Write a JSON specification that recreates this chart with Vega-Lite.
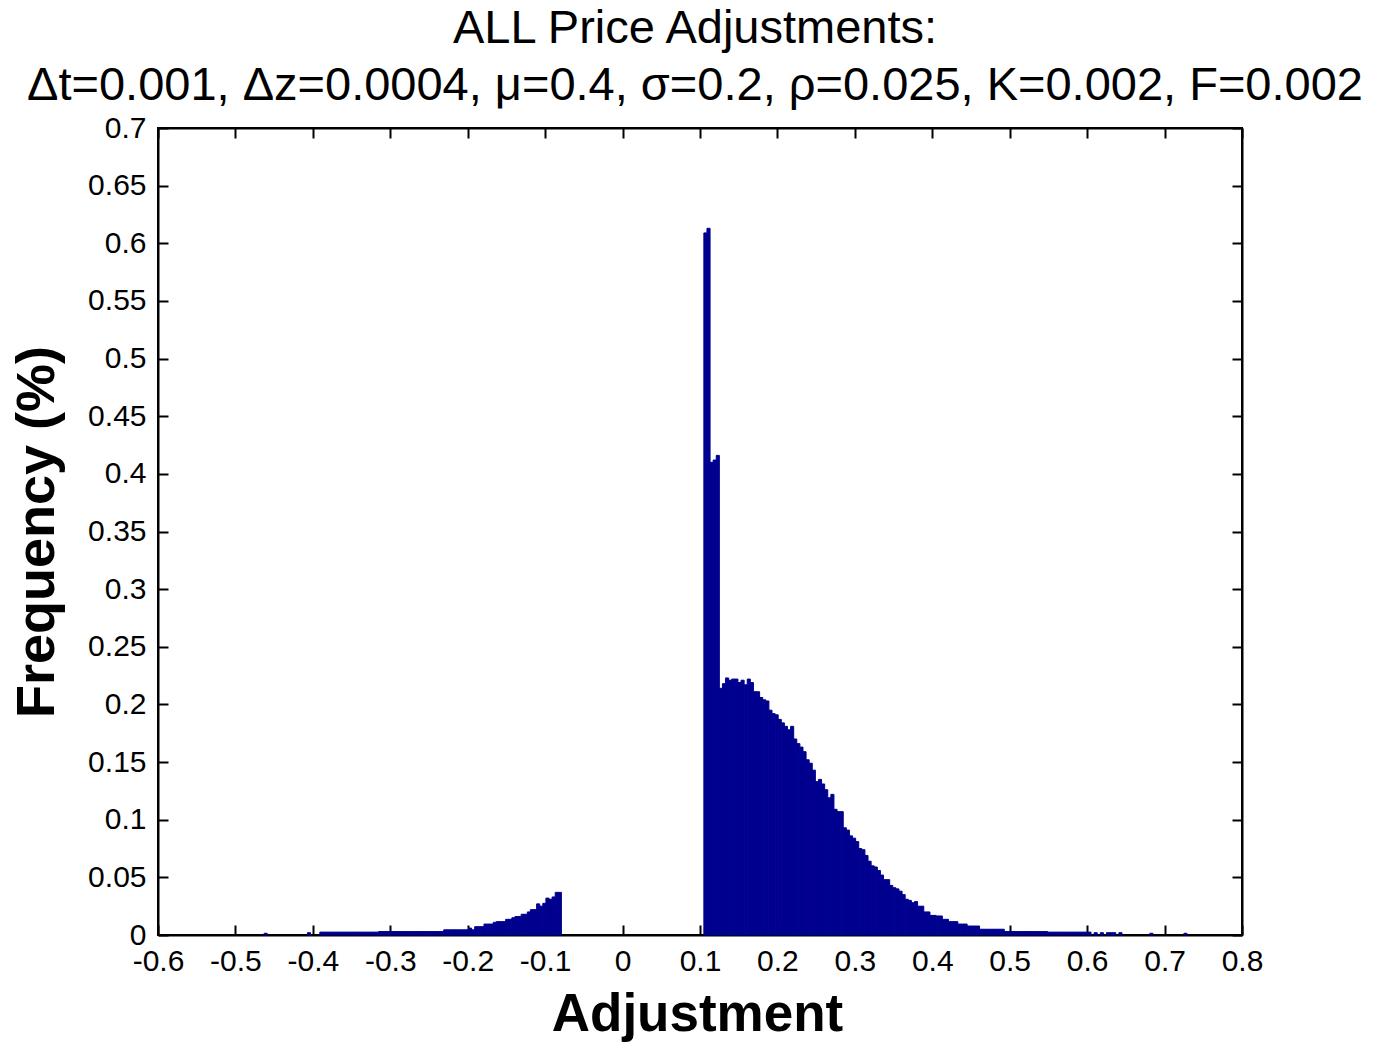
{
  "$schema": "https://vega.github.io/schema/vega-lite/v6.json",
  "width": 1084,
  "height": 807,
  "autosize": {"type": "none"},
  "padding": {"left": 158, "top": 128, "right": 137, "bottom": 108},
  "background": "white",
  "config": {"view": {"stroke": "black", "strokeWidth": 2}, "font": "Liberation Sans"},
  "title": {
    "text": ["ALL Price Adjustments:", "Δt=0.001, Δz=0.0004, μ=0.4, σ=0.2, ρ=0.025, K=0.002, F=0.002"],
    "fontSize": 47,
    "font": "Liberation Sans",
    "fontWeight": "normal",
    "color": "black",
    "lineHeight": 57,
    "anchor": "middle",
    "dx": -5,
    "offset": 3
  },
  "data": {"values": [
    {"lo": -0.463, "hi": -0.459, "f": 0.0015},
    {"lo": -0.407, "hi": -0.403, "f": 0.002},
    {"lo": -0.391, "hi": -0.387, "f": 0.0025},
    {"lo": -0.387, "hi": -0.383, "f": 0.0025},
    {"lo": -0.383, "hi": -0.379, "f": 0.0025},
    {"lo": -0.379, "hi": -0.375, "f": 0.0025},
    {"lo": -0.375, "hi": -0.371, "f": 0.0025},
    {"lo": -0.371, "hi": -0.367, "f": 0.0025},
    {"lo": -0.367, "hi": -0.363, "f": 0.0025},
    {"lo": -0.363, "hi": -0.359, "f": 0.0025},
    {"lo": -0.359, "hi": -0.355, "f": 0.0025},
    {"lo": -0.355, "hi": -0.351, "f": 0.0025},
    {"lo": -0.351, "hi": -0.347, "f": 0.0025},
    {"lo": -0.347, "hi": -0.343, "f": 0.0025},
    {"lo": -0.343, "hi": -0.339, "f": 0.0025},
    {"lo": -0.339, "hi": -0.335, "f": 0.0025},
    {"lo": -0.335, "hi": -0.331, "f": 0.0025},
    {"lo": -0.331, "hi": -0.327, "f": 0.0025},
    {"lo": -0.327, "hi": -0.323, "f": 0.0025},
    {"lo": -0.323, "hi": -0.319, "f": 0.0025},
    {"lo": -0.319, "hi": -0.315, "f": 0.0025},
    {"lo": -0.315, "hi": -0.311, "f": 0.003},
    {"lo": -0.311, "hi": -0.307, "f": 0.003},
    {"lo": -0.307, "hi": -0.303, "f": 0.003},
    {"lo": -0.303, "hi": -0.299, "f": 0.003},
    {"lo": -0.299, "hi": -0.295, "f": 0.003},
    {"lo": -0.295, "hi": -0.291, "f": 0.003},
    {"lo": -0.291, "hi": -0.287, "f": 0.003},
    {"lo": -0.287, "hi": -0.283, "f": 0.003},
    {"lo": -0.283, "hi": -0.279, "f": 0.003},
    {"lo": -0.279, "hi": -0.275, "f": 0.003},
    {"lo": -0.275, "hi": -0.271, "f": 0.003},
    {"lo": -0.271, "hi": -0.267, "f": 0.003},
    {"lo": -0.267, "hi": -0.263, "f": 0.003},
    {"lo": -0.263, "hi": -0.259, "f": 0.003},
    {"lo": -0.259, "hi": -0.255, "f": 0.003},
    {"lo": -0.255, "hi": -0.251, "f": 0.003},
    {"lo": -0.251, "hi": -0.247, "f": 0.003},
    {"lo": -0.247, "hi": -0.243, "f": 0.003},
    {"lo": -0.243, "hi": -0.239, "f": 0.003},
    {"lo": -0.239, "hi": -0.235, "f": 0.003},
    {"lo": -0.235, "hi": -0.231, "f": 0.003},
    {"lo": -0.231, "hi": -0.227, "f": 0.0045},
    {"lo": -0.227, "hi": -0.223, "f": 0.0045},
    {"lo": -0.223, "hi": -0.219, "f": 0.0045},
    {"lo": -0.219, "hi": -0.215, "f": 0.0045},
    {"lo": -0.215, "hi": -0.211, "f": 0.0045},
    {"lo": -0.211, "hi": -0.207, "f": 0.0045},
    {"lo": -0.207, "hi": -0.203, "f": 0.0045},
    {"lo": -0.203, "hi": -0.199, "f": 0.0045},
    {"lo": -0.199, "hi": -0.195, "f": 0.006},
    {"lo": -0.195, "hi": -0.191, "f": 0.0045},
    {"lo": -0.191, "hi": -0.187, "f": 0.0072},
    {"lo": -0.187, "hi": -0.183, "f": 0.0072},
    {"lo": -0.183, "hi": -0.179, "f": 0.0072},
    {"lo": -0.179, "hi": -0.175, "f": 0.0095},
    {"lo": -0.175, "hi": -0.171, "f": 0.0095},
    {"lo": -0.171, "hi": -0.167, "f": 0.0095},
    {"lo": -0.167, "hi": -0.163, "f": 0.011},
    {"lo": -0.163, "hi": -0.159, "f": 0.0116},
    {"lo": -0.159, "hi": -0.155, "f": 0.0116},
    {"lo": -0.155, "hi": -0.151, "f": 0.0116},
    {"lo": -0.151, "hi": -0.147, "f": 0.0136},
    {"lo": -0.147, "hi": -0.143, "f": 0.0136},
    {"lo": -0.143, "hi": -0.139, "f": 0.015},
    {"lo": -0.139, "hi": -0.135, "f": 0.016},
    {"lo": -0.135, "hi": -0.131, "f": 0.016},
    {"lo": -0.131, "hi": -0.127, "f": 0.018},
    {"lo": -0.127, "hi": -0.123, "f": 0.018},
    {"lo": -0.123, "hi": -0.119, "f": 0.020},
    {"lo": -0.119, "hi": -0.115, "f": 0.022},
    {"lo": -0.115, "hi": -0.111, "f": 0.022},
    {"lo": -0.111, "hi": -0.107, "f": 0.027},
    {"lo": -0.107, "hi": -0.103, "f": 0.025},
    {"lo": -0.103, "hi": -0.099, "f": 0.0275},
    {"lo": -0.099, "hi": -0.095, "f": 0.032},
    {"lo": -0.095, "hi": -0.091, "f": 0.031},
    {"lo": -0.091, "hi": -0.087, "f": 0.033},
    {"lo": -0.087, "hi": -0.083, "f": 0.037},
    {"lo": -0.083, "hi": -0.079, "f": 0.037},
    {"lo": 0.105, "hi": 0.109, "f": 0.609},
    {"lo": 0.109, "hi": 0.113, "f": 0.613},
    {"lo": 0.113, "hi": 0.117, "f": 0.410},
    {"lo": 0.117, "hi": 0.121, "f": 0.412},
    {"lo": 0.121, "hi": 0.125, "f": 0.416},
    {"lo": 0.125, "hi": 0.129, "f": 0.214},
    {"lo": 0.129, "hi": 0.133, "f": 0.218},
    {"lo": 0.133, "hi": 0.137, "f": 0.223},
    {"lo": 0.137, "hi": 0.141, "f": 0.221},
    {"lo": 0.141, "hi": 0.145, "f": 0.222},
    {"lo": 0.145, "hi": 0.149, "f": 0.222},
    {"lo": 0.149, "hi": 0.153, "f": 0.219},
    {"lo": 0.153, "hi": 0.157, "f": 0.221},
    {"lo": 0.157, "hi": 0.161, "f": 0.217},
    {"lo": 0.161, "hi": 0.165, "f": 0.222},
    {"lo": 0.165, "hi": 0.169, "f": 0.219},
    {"lo": 0.169, "hi": 0.173, "f": 0.211},
    {"lo": 0.173, "hi": 0.177, "f": 0.211},
    {"lo": 0.177, "hi": 0.181, "f": 0.206},
    {"lo": 0.181, "hi": 0.185, "f": 0.204},
    {"lo": 0.185, "hi": 0.189, "f": 0.203},
    {"lo": 0.189, "hi": 0.193, "f": 0.195},
    {"lo": 0.193, "hi": 0.197, "f": 0.192},
    {"lo": 0.197, "hi": 0.201, "f": 0.191},
    {"lo": 0.201, "hi": 0.205, "f": 0.187},
    {"lo": 0.205, "hi": 0.209, "f": 0.184},
    {"lo": 0.209, "hi": 0.213, "f": 0.181},
    {"lo": 0.213, "hi": 0.217, "f": 0.178},
    {"lo": 0.217, "hi": 0.221, "f": 0.181},
    {"lo": 0.221, "hi": 0.225, "f": 0.170},
    {"lo": 0.225, "hi": 0.229, "f": 0.166},
    {"lo": 0.229, "hi": 0.233, "f": 0.163},
    {"lo": 0.233, "hi": 0.237, "f": 0.159},
    {"lo": 0.237, "hi": 0.241, "f": 0.152},
    {"lo": 0.241, "hi": 0.245, "f": 0.149},
    {"lo": 0.245, "hi": 0.249, "f": 0.143},
    {"lo": 0.249, "hi": 0.253, "f": 0.133},
    {"lo": 0.253, "hi": 0.257, "f": 0.135},
    {"lo": 0.257, "hi": 0.261, "f": 0.131},
    {"lo": 0.261, "hi": 0.265, "f": 0.126},
    {"lo": 0.265, "hi": 0.269, "f": 0.119},
    {"lo": 0.269, "hi": 0.273, "f": 0.122},
    {"lo": 0.273, "hi": 0.277, "f": 0.109},
    {"lo": 0.277, "hi": 0.281, "f": 0.107},
    {"lo": 0.281, "hi": 0.285, "f": 0.107},
    {"lo": 0.285, "hi": 0.289, "f": 0.093},
    {"lo": 0.289, "hi": 0.293, "f": 0.091},
    {"lo": 0.293, "hi": 0.297, "f": 0.086},
    {"lo": 0.297, "hi": 0.301, "f": 0.084},
    {"lo": 0.301, "hi": 0.305, "f": 0.081},
    {"lo": 0.305, "hi": 0.309, "f": 0.075},
    {"lo": 0.309, "hi": 0.313, "f": 0.074},
    {"lo": 0.313, "hi": 0.317, "f": 0.069},
    {"lo": 0.317, "hi": 0.321, "f": 0.064},
    {"lo": 0.321, "hi": 0.325, "f": 0.060},
    {"lo": 0.325, "hi": 0.329, "f": 0.059},
    {"lo": 0.329, "hi": 0.333, "f": 0.056},
    {"lo": 0.333, "hi": 0.337, "f": 0.052},
    {"lo": 0.337, "hi": 0.341, "f": 0.048},
    {"lo": 0.341, "hi": 0.345, "f": 0.048},
    {"lo": 0.345, "hi": 0.349, "f": 0.043},
    {"lo": 0.349, "hi": 0.353, "f": 0.041},
    {"lo": 0.353, "hi": 0.357, "f": 0.040},
    {"lo": 0.357, "hi": 0.361, "f": 0.038},
    {"lo": 0.361, "hi": 0.365, "f": 0.035},
    {"lo": 0.365, "hi": 0.369, "f": 0.031},
    {"lo": 0.369, "hi": 0.373, "f": 0.030},
    {"lo": 0.373, "hi": 0.377, "f": 0.028},
    {"lo": 0.377, "hi": 0.381, "f": 0.029},
    {"lo": 0.381, "hi": 0.385, "f": 0.025},
    {"lo": 0.385, "hi": 0.389, "f": 0.025},
    {"lo": 0.389, "hi": 0.393, "f": 0.020},
    {"lo": 0.393, "hi": 0.397, "f": 0.020},
    {"lo": 0.397, "hi": 0.401, "f": 0.017},
    {"lo": 0.401, "hi": 0.405, "f": 0.017},
    {"lo": 0.405, "hi": 0.409, "f": 0.0165},
    {"lo": 0.409, "hi": 0.413, "f": 0.0165},
    {"lo": 0.413, "hi": 0.417, "f": 0.0136},
    {"lo": 0.417, "hi": 0.421, "f": 0.0136},
    {"lo": 0.421, "hi": 0.425, "f": 0.0116},
    {"lo": 0.425, "hi": 0.429, "f": 0.0116},
    {"lo": 0.429, "hi": 0.433, "f": 0.0116},
    {"lo": 0.433, "hi": 0.437, "f": 0.0095},
    {"lo": 0.437, "hi": 0.441, "f": 0.0095},
    {"lo": 0.441, "hi": 0.445, "f": 0.0095},
    {"lo": 0.445, "hi": 0.449, "f": 0.0078},
    {"lo": 0.449, "hi": 0.453, "f": 0.0078},
    {"lo": 0.453, "hi": 0.457, "f": 0.0078},
    {"lo": 0.457, "hi": 0.461, "f": 0.0078},
    {"lo": 0.461, "hi": 0.465, "f": 0.005},
    {"lo": 0.465, "hi": 0.469, "f": 0.005},
    {"lo": 0.469, "hi": 0.473, "f": 0.005},
    {"lo": 0.473, "hi": 0.477, "f": 0.005},
    {"lo": 0.477, "hi": 0.481, "f": 0.005},
    {"lo": 0.481, "hi": 0.485, "f": 0.005},
    {"lo": 0.485, "hi": 0.489, "f": 0.005},
    {"lo": 0.489, "hi": 0.493, "f": 0.005},
    {"lo": 0.493, "hi": 0.497, "f": 0.003},
    {"lo": 0.497, "hi": 0.501, "f": 0.003},
    {"lo": 0.501, "hi": 0.505, "f": 0.003},
    {"lo": 0.505, "hi": 0.509, "f": 0.003},
    {"lo": 0.509, "hi": 0.513, "f": 0.003},
    {"lo": 0.513, "hi": 0.517, "f": 0.003},
    {"lo": 0.517, "hi": 0.521, "f": 0.003},
    {"lo": 0.521, "hi": 0.525, "f": 0.003},
    {"lo": 0.525, "hi": 0.529, "f": 0.003},
    {"lo": 0.529, "hi": 0.533, "f": 0.003},
    {"lo": 0.533, "hi": 0.537, "f": 0.003},
    {"lo": 0.537, "hi": 0.541, "f": 0.003},
    {"lo": 0.541, "hi": 0.545, "f": 0.003},
    {"lo": 0.545, "hi": 0.549, "f": 0.003},
    {"lo": 0.549, "hi": 0.553, "f": 0.0025},
    {"lo": 0.553, "hi": 0.557, "f": 0.0025},
    {"lo": 0.557, "hi": 0.561, "f": 0.0025},
    {"lo": 0.561, "hi": 0.565, "f": 0.0025},
    {"lo": 0.565, "hi": 0.569, "f": 0.0025},
    {"lo": 0.569, "hi": 0.573, "f": 0.0025},
    {"lo": 0.573, "hi": 0.577, "f": 0.0025},
    {"lo": 0.577, "hi": 0.581, "f": 0.0025},
    {"lo": 0.581, "hi": 0.585, "f": 0.0025},
    {"lo": 0.585, "hi": 0.589, "f": 0.0025},
    {"lo": 0.589, "hi": 0.593, "f": 0.0025},
    {"lo": 0.593, "hi": 0.597, "f": 0.0025},
    {"lo": 0.597, "hi": 0.601, "f": 0.0025},
    {"lo": 0.601, "hi": 0.605, "f": 0.0025},
    {"lo": 0.609, "hi": 0.613, "f": 0.002},
    {"lo": 0.617, "hi": 0.621, "f": 0.002},
    {"lo": 0.625, "hi": 0.629, "f": 0.002},
    {"lo": 0.629, "hi": 0.633, "f": 0.002},
    {"lo": 0.633, "hi": 0.637, "f": 0.002},
    {"lo": 0.641, "hi": 0.645, "f": 0.002},
    {"lo": 0.681, "hi": 0.685, "f": 0.0015},
    {"lo": 0.725, "hi": 0.729, "f": 0.0015}
  ]},
  "layer": [
    {
      "mark": {"type": "bar", "color": "#00008f", "stroke": "#00008f", "strokeWidth": 1},
      "encoding": {
        "x": {
          "field": "lo", "type": "quantitative",
          "scale": {"domain": [-0.6, 0.8], "nice": false, "zero": false},
          "axis": {
            "orient": "bottom",
            "values": [-0.6, -0.5, -0.4, -0.3, -0.2, -0.1, 0, 0.1, 0.2, 0.3, 0.4, 0.5, 0.6, 0.7, 0.8],
            "labelExpr": "'' + datum.value",
            "grid": false,
            "tickSize": -10, "tickWidth": 2, "tickColor": "black",
            "domainColor": "black", "domainWidth": 2,
            "labelFont": "Liberation Sans", "labelFontSize": 30, "labelColor": "black",
            "labelPadding": 21, "labelFlush": false, "labelOverlap": false,
            "title": "Adjustment", "titleFont": "Liberation Sans", "titleFontSize": 53,
            "titleFontWeight": "bold", "titleColor": "black", "titlePadding": 12, "titleX": 539
          }
        },
        "x2": {"field": "hi"},
        "y": {
          "field": "f", "type": "quantitative",
          "scale": {"domain": [0, 0.7], "nice": false},
          "axis": {
            "orient": "left",
            "values": [0, 0.05, 0.1, 0.15, 0.2, 0.25, 0.3, 0.35, 0.4, 0.45, 0.5, 0.55, 0.6, 0.65, 0.7],
            "labelExpr": "'' + datum.value",
            "grid": false,
            "tickSize": -10, "tickWidth": 2, "tickColor": "black",
            "domainColor": "black", "domainWidth": 2,
            "labelFont": "Liberation Sans", "labelFontSize": 30, "labelColor": "black",
            "labelPadding": 22, "labelFlush": false, "labelOverlap": false,
            "title": "Frequency (%)", "titleFont": "Liberation Sans", "titleFontSize": 54,
            "titleFontWeight": "bold", "titleColor": "black", "titlePadding": 23
          }
        },
        "y2": {"datum": 0}
      }
    },
    {
      "mark": {"type": "bar", "opacity": 0},
      "encoding": {
        "x": {
          "field": "lo", "type": "quantitative",
          "scale": {"domain": [-0.6, 0.8], "nice": false, "zero": false},
          "axis": {
            "orient": "top",
            "values": [-0.6, -0.5, -0.4, -0.3, -0.2, -0.1, 0, 0.1, 0.2, 0.3, 0.4, 0.5, 0.6, 0.7, 0.8],
            "labels": false, "grid": false, "title": null,
            "tickSize": -10, "tickWidth": 2, "tickColor": "black",
            "domainColor": "black", "domainWidth": 2
          }
        },
        "x2": {"field": "hi"},
        "y": {
          "field": "f", "type": "quantitative",
          "scale": {"domain": [0, 0.7], "nice": false},
          "axis": {
            "orient": "right",
            "values": [0, 0.05, 0.1, 0.15, 0.2, 0.25, 0.3, 0.35, 0.4, 0.45, 0.5, 0.55, 0.6, 0.65, 0.7],
            "labels": false, "grid": false, "title": null,
            "tickSize": -10, "tickWidth": 2, "tickColor": "black",
            "domainColor": "black", "domainWidth": 2
          }
        },
        "y2": {"datum": 0}
      }
    }
  ],
  "resolve": {"axis": {"x": "independent", "y": "independent"}}
}
